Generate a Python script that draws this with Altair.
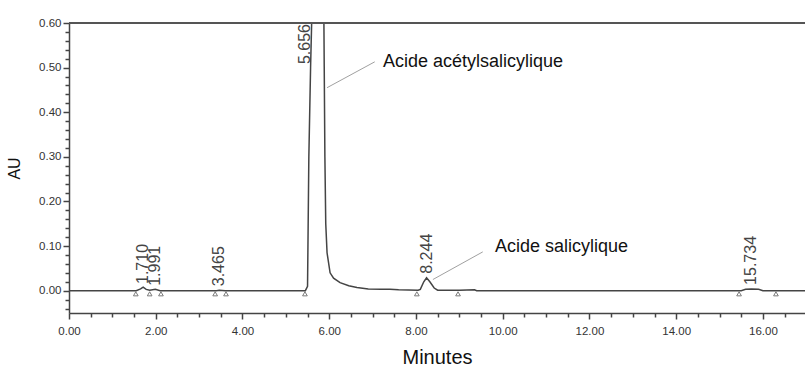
import altair as alt
import pandas as pd

# Chromatogram trace (minutes, AU)
trace_t = [0.0, 1.55, 1.65, 1.71, 1.78, 1.86, 1.991, 2.10, 3.40, 3.465, 3.60,
           5.45, 5.50, 5.53, 5.57, 5.60, 5.656, 5.75, 5.80, 5.87, 5.885, 5.90,
           5.92, 5.95, 6.02, 6.10, 6.25, 6.45, 6.64, 6.90, 7.20, 7.40, 7.60,
           8.05, 8.10, 8.18, 8.244, 8.32, 8.42, 8.50, 9.00, 9.35, 9.40,
           15.50, 15.60, 15.734, 15.90, 16.00, 17.0]
trace_v = [0.0, 0.0, 0.004, 0.008, 0.003, 0.001, 0.003, 0.0, 0.0, 0.001, 0.0,
           0.0, 0.01, 0.30, 0.50, 0.62, 1.30, 1.20, 1.00, 0.70, 0.50, 0.30,
           0.15, 0.085, 0.04, 0.028, 0.018, 0.011, 0.007, 0.004, 0.003, 0.003, 0.002,
           0.001, 0.003, 0.020, 0.029, 0.020, 0.006, 0.001, 0.001, 0.002, 0.0,
           0.0, 0.003, 0.004, 0.003, 0.0, 0.0]

# Integration markers (peak start / end)
marker_t = [1.54, 1.86, 2.12, 3.37, 3.62, 5.44, 8.02, 8.97, 15.45, 16.30]

# Retention-time labels
peak_t = [1.710, 1.991, 3.465, 8.244, 15.734]
peak_h = [0.006, 0.002, 0.001, 0.029, 0.004]
peak_lbl = ["1.710", "1.991", "3.465", "8.244", "15.734"]
main_t = [5.656]
main_lbl = ["5.656"]

# Compound annotations
ann_t = [7.24, 9.82]
ann_v = [0.502, 0.086]
ann_lbl = ["Acide acétylsalicylique", "Acide salicylique"]

# Leader lines (two segments)
lead_seg = ["a", "a", "b", "b"]
lead_t = [7.05, 5.95, 9.54, 8.39]
lead_v = [0.513, 0.455, 0.087, 0.025]

# Axis tick values (major + minor)
x_vals = [0.0, 0.5, 1.0, 1.5, 2.0, 2.5, 3.0, 3.5, 4.0, 4.5, 5.0, 5.5, 6.0, 6.5,
          7.0, 7.5, 8.0, 8.5, 9.0, 9.5, 10.0, 10.5, 11.0, 11.5, 12.0, 12.5,
          13.0, 13.5, 14.0, 14.5, 15.0, 15.5, 16.0, 16.5]
y_vals = [-0.04, -0.02, 0.0, 0.02, 0.04, 0.06, 0.08, 0.10, 0.12, 0.14, 0.16,
          0.18, 0.20, 0.22, 0.24, 0.26, 0.28, 0.30, 0.32, 0.34, 0.36, 0.38,
          0.40, 0.42, 0.44, 0.46, 0.48, 0.50, 0.52, 0.54, 0.56, 0.58, 0.60]

trace = pd.DataFrame({"t": trace_t, "v": trace_v})
markers = pd.DataFrame({"t": marker_t})
peaks = pd.DataFrame({"t": peak_t, "v": peak_h, "lbl": peak_lbl})
mainpk = pd.DataFrame({"t": main_t, "lbl": main_lbl})
ann = pd.DataFrame({"t": ann_t, "v": ann_v, "lbl": ann_lbl})
lead = pd.DataFrame({"seg": lead_seg, "t": lead_t, "v": lead_v})

FONT = "Liberation Sans"
AX = "#444444"

xscale = alt.Scale(domain=[0, 16.97], nice=False, zero=False)
yscale = alt.Scale(domain=[-0.05, 0.6], nice=False, zero=False)

x_axis = alt.Axis(
    values=x_vals, tickCount=200, orient="bottom", grid=False, title="Minutes",
    labelExpr="round(datum.value*10) % 20 == 0 ? format(datum.value, '.2f') : ''",
    tickSize={"condition": {"test": "round(datum.value*10) % 20 == 0", "value": 6}, "value": 4},
    tickColor=AX, tickWidth=1.5, domainColor=AX, domainWidth=1.5,
    labelFont=FONT, labelFontSize=11.5, labelColor="#333", labelOverlap=False,
    labelPadding=6, labelFlush=False,
    titleFont=FONT, titleFontSize=20, titleFontWeight="normal", titleColor="#111",
    titlePadding=11,
)
y_axis = alt.Axis(
    values=y_vals, tickCount=200, orient="left", grid=False, title="AU",
    labelExpr="round(datum.value*100) % 10 == 0 ? format(datum.value, '.2f') : ''",
    tickSize={"condition": {"test": "round(datum.value*100) % 10 == 0", "value": 6}, "value": 4},
    tickColor=AX, tickWidth=1.5, domainColor=AX, domainWidth=1.5,
    labelFont=FONT, labelFontSize=11.5, labelColor="#333", labelOverlap=False,
    labelPadding=2, labelFlush=False, labelBound=False,
    titleFont=FONT, titleFontSize=16, titleFontWeight="normal", titleColor="#111",
    titlePadding=16,
)

line = alt.Chart(trace).mark_line(color="#444", strokeWidth=1.5, clip=True).encode(
    x=alt.X("t:Q", scale=xscale, axis=x_axis),
    y=alt.Y("v:Q", scale=yscale, axis=y_axis),
)

top = alt.Chart(trace).mark_rule(color="#555", strokeWidth=2).encode(
    y=alt.datum(0.6)
)

tri = alt.Chart(markers).mark_point(shape="triangle-up", filled=False, size=22,
                                    color="#444", strokeWidth=1).encode(
    x="t:Q", y=alt.datum(-0.007)
)

plabels = alt.Chart(peaks).mark_text(angle=270, align="left", baseline="middle",
                                     dx=4, font=FONT, fontSize=16, color="#444").encode(
    x="t:Q", y="v:Q", text="lbl:N"
)

mlabel = alt.Chart(mainpk).mark_text(angle=270, align="right", baseline="bottom",
                                     dx=-1, dy=-1, font=FONT, fontSize=16, color="#444").encode(
    x="t:Q", y=alt.datum(0.6), text="lbl:N"
)

leaders = alt.Chart(lead).mark_line(color="#888", strokeWidth=0.8).encode(
    x="t:Q", y="v:Q", detail="seg:N"
)

annot = alt.Chart(ann).mark_text(align="left", baseline="alphabetic", font=FONT,
                                 fontSize=18, color="#111").encode(
    x="t:Q", y="v:Q", text="lbl:N"
)

chart = alt.layer(line, top, leaders, tri, plabels, mlabel, annot).properties(
    width=736, height=290,
    autosize=alt.AutoSizeParams(type="none"),
    padding={"left": 69, "top": 23, "right": 0, "bottom": 54},
).configure_view(stroke=None).configure(background="white").configure_axis(
    labelOverlap=False
)

chart.save("out.html", embed_options={"renderer": "svg", "actions": False})
